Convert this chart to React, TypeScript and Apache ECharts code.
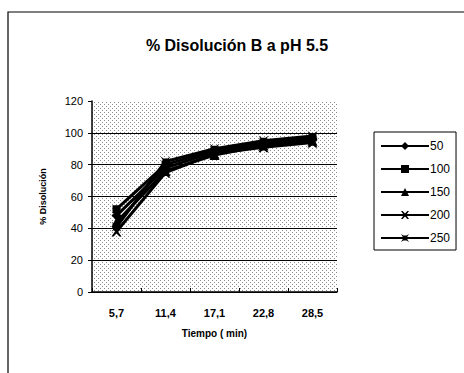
import React, { useEffect, useRef } from "react";
import * as echarts from "echarts";

const categories = ["5,7", "11,4", "17,1", "22,8", "28,5"];
const seriesNames = ["50", "100", "150", "200", "250"];
const s50 = [48, 78, 88, 93, 96];
const s100 = [52, 80, 89, 94, 97];
const s150 = [44, 76, 86, 92, 95];
const s200 = [38, 75, 87, 91, 94];
const s250 = [41, 82, 90, 95, 98];
const yTicks = [0, 20, 40, 60, 80, 100, 120];

const symbols = [
  "diamond",
  "rect",
  "triangle",
  "path://M0,0 L2,0 L5,3 L8,0 L10,0 L6.5,5 L10,10 L8,10 L5,7 L2,10 L0,10 L3.5,5 Z",
  "path://M0,0 L3,2 L7,2 L10,0 L8,3 L8,7 L10,10 L7,8 L3,8 L0,10 L2,7 L2,3 Z",
];

export default function App() {
  const ref = useRef<HTMLDivElement>(null);
  useEffect(() => {
    if (!ref.current) return;
    const chart = echarts.init(ref.current, null, { renderer: "svg" });
    const cv = document.createElement("canvas");
    cv.width = 4;
    cv.height = 4;
    const ctx = cv.getContext("2d");
    if (ctx) {
      ctx.fillStyle = "#ffffff";
      ctx.fillRect(0, 0, 4, 4);
      ctx.fillStyle = "#8a8a8a";
      ctx.fillRect(0, 0, 1, 1);
      ctx.fillRect(2, 2, 1, 1);
    }
    const data = [s50, s100, s150, s200, s250];
    const font = "'Liberation Sans', Arial, sans-serif";
    chart.setOption({
      animation: false,
      backgroundColor: "#ffffff",
      textStyle: { fontFamily: font, color: "#000" },
      title: {
        text: "% Disolución B a pH 5.5",
        left: 232,
        textAlign: "center",
        top: 32,
        textStyle: { fontSize: 16, fontWeight: "bold", color: "#000", fontFamily: font },
      },
      graphic: [
        {
          type: "rect",
          shape: { x: 8, y: 12, width: 470, height: 380 },
          style: { fill: "none", stroke: "#000", lineWidth: 1.2 },
          silent: true,
        },
      ],
      legend: {
        orient: "vertical",
        left: 374,
        top: 132,
        width: 86,
        padding: [8, 6, 6, 6],
        itemGap: 11,
        itemWidth: 48,
        itemHeight: 10,
        borderColor: "#000",
        borderWidth: 1,
        borderRadius: 0,
        data: seriesNames,
        textStyle: { fontSize: 12, color: "#000", fontFamily: font, padding: [0, 0, 0, -4] },
      },
      grid: {
        left: 92,
        top: 101,
        width: 245,
        height: 191,
        show: true,
        borderWidth: 0,
        backgroundColor: { image: cv, repeat: "repeat" },
      },
      xAxis: {
        type: "category",
        data: categories,
        boundaryGap: true,
        name: "Tiempo ( min)",
        nameLocation: "middle",
        nameGap: 36,
        nameTextStyle: { fontSize: 10, fontWeight: "bold", color: "#000" },
        axisLine: { lineStyle: { color: "#000", width: 1.5 } },
        axisTick: { show: true, length: 4, inside: true, lineStyle: { color: "#000" } },
        axisLabel: { fontSize: 11, color: "#000", margin: 15, fontWeight: "bold" },
        splitLine: { show: false },
      },
      yAxis: {
        type: "value",
        min: yTicks[0],
        max: yTicks[yTicks.length - 1],
        interval: 20,
        name: "% Disolución",
        nameLocation: "middle",
        nameGap: 45,
        nameRotate: 90,
        nameTextStyle: { fontSize: 9, fontWeight: "bold", color: "#000" },
        axisLine: { show: true, lineStyle: { color: "#000", width: 1.5 } },
        axisTick: { show: true, length: 4, lineStyle: { color: "#000" } },
        axisLabel: { fontSize: 11, color: "#000", margin: 9 },
        splitLine: {
          show: true,
          lineStyle: { color: "#000", width: 1 },
          showMaxLine: false,
        },
      },
      series: seriesNames.map((n, i) => ({
        name: n,
        type: "line",
        data: data[i],
        symbol: symbols[i],
        symbolSize: i === 1 ? 8 : 10,
        itemStyle: { color: "#000" },
        lineStyle: { color: "#000", width: 3 },
      })),
    });
    return () => chart.dispose();
  }, []);
  return (
    <div
      ref={ref}
      style={{ position: "absolute", left: 0, top: 0, width: 464, height: 373 }}
    />
  );
}
